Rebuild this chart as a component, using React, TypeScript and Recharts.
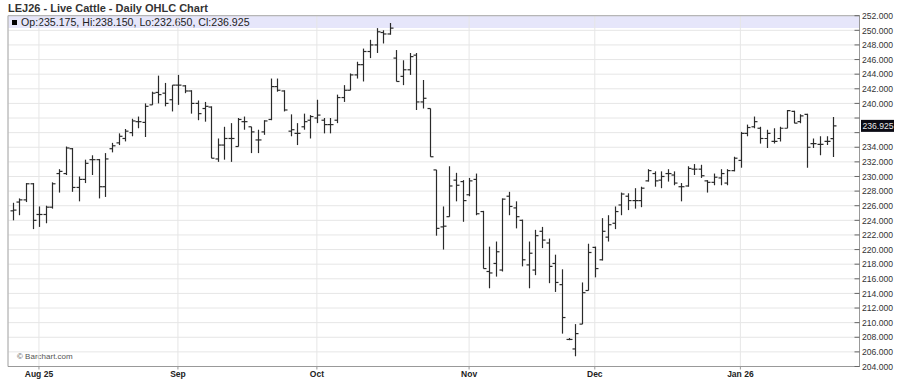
import { Bar, CartesianGrid, ComposedChart, ReferenceArea, ReferenceLine, XAxis, YAxis } from "recharts";

// LEJ26 daily bars, Jul 28 2025 .. Jan 23 2026 (one entry per trading day)
const opens = [
  225.3, 226.5, 226.8, 229.0, 224.8, 224.8, 225.8, 230.4, 230.4, 233.8,
  228.5, 229.6, 232.3, 232.3, 228.6, 233.8, 234.6, 235.2, 236.0, 237.5,
  237.4, 239.8, 241.5, 241.4, 240.5, 242.5, 242.4, 241.7, 240.0, 239.3,
  239.5, 232.4, 234.3, 235.2, 234.1, 237.5, 236.8, 235.0, 236.1, 237.8,
  242.3, 241.7, 236.2, 235.9, 236.8, 237.7, 238.0, 237.7, 237.1, 237.7,
  240.8, 241.8, 243.9, 245.3, 247.1, 248.0, 249.7, 249.5, 246.2, 243.7,
  244.6, 246.6, 240.2, 239.3, 230.9, 223.1, 224.5, 229.5, 229.3, 227.5,
  229.6, 225.2, 217.0, 218.1, 217.2, 227.3, 225.7, 224.0, 217.9, 217.2,
  222.5, 220.9, 218.1, 215.2, 207.7, 206.4, 209.8, 214.4, 220.3, 218.6,
  221.7, 223.6, 226.1, 227.3, 226.7, 226.7, 229.4, 230.4, 229.5, 230.4,
  230.2, 228.6, 228.7, 231.0, 231.0, 229.4, 229.2, 229.8, 229.1, 230.8,
  232.2, 235.9, 236.8, 236.6, 235.2, 234.8, 235.2, 236.6, 238.9, 237.5,
  238.5, 234.5, 234.4, 234.8, 235.175,
];
const highs = [
  226.4, 227.0, 229.1, 229.1, 225.9, 226.0, 229.2, 231.0, 234.1, 233.9,
  230.0, 232.3, 232.9, 232.4, 233.2, 234.6, 235.9, 236.5, 237.9, 238.2,
  240.0, 241.6, 243.8, 242.8, 242.5, 243.9, 242.5, 241.8, 240.4, 240.2,
  239.6, 235.2, 236.8, 237.3, 238.0, 238.2, 236.8, 236.4, 237.7, 243.4,
  243.4, 241.8, 238.5, 237.3, 238.6, 238.4, 240.5, 238.0, 238.0, 241.2,
  242.5, 244.1, 245.7, 247.5, 248.7, 250.3, 250.0, 251.0, 247.3, 245.9,
  246.9, 246.9, 243.2, 239.3, 230.9, 225.9, 231.4, 230.5, 229.5, 229.8,
  230.4, 225.3, 220.4, 221.1, 227.0, 227.9, 226.6, 224.1, 221.1, 222.7,
  223.1, 221.5, 219.3, 217.3, 207.9, 209.8, 215.5, 220.8, 220.4, 224.3,
  224.7, 225.9, 227.8, 227.7, 228.4, 228.6, 231.0, 230.7, 230.7, 231.0,
  230.7, 229.1, 231.4, 231.7, 231.6, 229.5, 230.4, 231.0, 231.0, 232.7,
  236.1, 237.1, 238.2, 236.8, 236.4, 236.6, 236.8, 239.1, 239.0, 238.5,
  238.6, 235.2, 235.5, 235.5, 238.15,
];
const lows = [
  224.0, 224.7, 226.5, 222.8, 223.1, 223.6, 225.6, 227.8, 230.2, 227.9,
  226.6, 229.1, 230.2, 227.0, 227.2, 233.3, 234.3, 234.8, 235.5, 236.6,
  235.4, 239.8, 240.0, 239.6, 238.9, 239.8, 241.4, 238.6, 237.7, 237.5,
  232.5, 232.0, 232.3, 232.0, 234.1, 236.4, 233.2, 233.2, 235.7, 237.7,
  241.6, 238.9, 235.5, 234.3, 236.4, 235.2, 237.3, 235.9, 235.9, 237.3,
  240.2, 241.8, 243.4, 243.0, 246.2, 246.9, 248.2, 249.4, 243.0, 242.5,
  243.9, 239.1, 239.3, 232.7, 221.9, 220.0, 224.5, 226.6, 223.8, 227.3,
  224.7, 217.4, 214.7, 216.3, 217.0, 224.7, 222.9, 217.7, 214.7, 216.5,
  220.2, 215.4, 214.2, 208.5, 207.6, 205.4, 209.8, 214.4, 216.2, 218.5,
  221.1, 222.8, 224.7, 225.4, 225.6, 225.8, 229.3, 228.6, 228.4, 229.3,
  228.8, 226.6, 228.6, 230.2, 229.8, 227.8, 228.8, 228.8, 228.8, 230.7,
  231.2, 235.5, 236.6, 234.5, 233.9, 234.5, 234.8, 236.6, 237.3, 237.3,
  231.2, 233.9, 232.9, 234.3, 232.65,
];
const closes = [
  225.4, 226.8, 229.0, 224.0, 224.8, 225.8, 229.0, 230.7, 233.9, 228.5,
  229.6, 231.8, 232.3, 228.6, 232.4, 234.2, 235.5, 236.2, 237.6, 237.5,
  239.6, 241.4, 241.2, 240.0, 242.5, 242.5, 241.7, 240.0, 238.6, 239.6,
  232.5, 234.3, 235.2, 235.2, 237.8, 237.5, 236.1, 235.0, 237.6, 242.3,
  241.8, 239.1, 236.4, 235.9, 237.5, 238.2, 238.4, 237.1, 237.1, 240.8,
  241.8, 243.9, 245.3, 247.1, 248.0, 249.8, 249.5, 250.3, 243.0, 244.6,
  246.4, 240.2, 240.7, 232.7, 222.9, 223.2, 228.7, 228.8, 226.7, 229.4,
  224.9, 217.4, 216.8, 219.7, 226.9, 225.9, 224.5, 218.6, 219.5, 221.9,
  221.3, 217.7, 215.5, 210.7, 207.7, 208.5, 214.1, 219.6, 217.4, 222.5,
  223.4, 225.2, 227.6, 226.7, 226.7, 228.4, 230.8, 229.4, 230.0, 230.4,
  229.1, 228.6, 231.1, 231.0, 230.1, 229.2, 229.9, 230.4, 230.8, 232.5,
  235.9, 236.7, 237.5, 235.2, 235.9, 234.8, 236.6, 239.0, 237.3, 238.3,
  234.0, 234.5, 234.4, 234.8, 236.925,
];

// first trading day of each month (bar index) and its label
const monthTicks = [4, 25, 46, 69, 88, 110];
const monthLabels = ["Aug 25", "Sep", "Oct", "Nov", "Dec", "Jan 26"];

const priceTicks = Array.from({ length: 25 }, (_, k) => 204 + k * 2);
const lastClose = closes[closes.length - 1];

const data = opens.map((o, i) => ({
  i,
  o,
  h: highs[i],
  l: lows[i],
  c: closes[i],
  range: [lows[i], highs[i]],
}));

const font = "Arial, 'Liberation Sans', Helvetica, sans-serif";

function OhlcBar(props: any) {
  const { x, y, width, height, payload } = props;
  if (x == null || y == null) return null;
  const top = Math.min(y, y + height);
  const h = Math.abs(height);
  const cx = Math.round(x + width / 2) + 0.5;
  const span = payload.h - payload.l;
  const k = span > 0 ? h / span : 0;
  const yo = top + (payload.h - payload.o) * k;
  const yc = top + (payload.h - payload.c) * k;
  return (
    <g stroke="#2a2a2a" strokeWidth={1.2}>
      <line x1={cx} x2={cx} y1={top} y2={top + Math.max(h, 1)} />
      <line x1={cx - 3} x2={cx} y1={yo} y2={yo} />
      <line x1={cx} x2={cx + 3} y1={yc} y2={yc} />
    </g>
  );
}

function PriceTick(props: any) {
  const { x, y, payload } = props;
  const hide = Math.abs(payload.value - lastClose) < 1.5;
  return (
    <g>
      <line x1={x - 5} x2={x} y1={y} y2={y} stroke="#666" />
      {!hide && (
        <text x={x + 2.5} y={y} dy={3.2} fontSize={8.6} fill="#333" fontFamily={font}>
          {payload.value.toFixed(3)}
        </text>
      )}
    </g>
  );
}

function LastLabel(props: any) {
  const { viewBox } = props;
  const x = viewBox.x + viewBox.width;
  const y = viewBox.y;
  return (
    <g>
      <rect x={x + 1.5} y={y - 6} width={33} height={12} fill="#0b0b14" />
      <text x={x + 3} y={y} dy={3.2} fontSize={8.6} fill="#e8e8e8" fontFamily={font}>
        {lastClose.toFixed(3)}
      </text>
    </g>
  );
}

export default function App() {
  return (
    <div style={{ position: "absolute", left: 0, top: 0, width: 901, height: 387, background: "#fff", fontFamily: font }}>
      <div style={{ position: "absolute", left: 8, top: 1, fontSize: 11, fontWeight: "bold", color: "#333", lineHeight: "14px" }}>
        LEJ26 - Live Cattle - Daily OHLC Chart
      </div>
      <div style={{ position: "absolute", left: 8, top: 16, width: 852, height: 12, background: "#e6e6fa" }}>
        <div style={{ position: "absolute", left: 4, top: 3.5, width: 5, height: 5, background: "#000" }} />
        <div style={{ position: "absolute", left: 13, top: 0, fontSize: 10.6, lineHeight: "12px", color: "#222" }}>
          Op:235.175, Hi:238.150, Lo:232.650, Cl:236.925
        </div>
      </div>
      <div style={{ position: "absolute", left: 17, top: 352, fontSize: 8, lineHeight: "10px", color: "#555" }}>
        © Barchart.com
      </div>
      <div style={{ position: "absolute", left: 0, top: 0 }}>
        <ComposedChart width={901} height={387} data={data} margin={{ top: 15.7, right: 0, bottom: 0, left: 8 }}>
          <CartesianGrid stroke="#e6e6e6" />
          <XAxis
            type="number"
            dataKey="i"
            domain={[-0.68, 128]}
            allowDataOverflow
            ticks={monthTicks}
            tickFormatter={(v: number) => monthLabels[monthTicks.indexOf(v)]}
            height={20.5}
            tickSize={3}
            tickMargin={1}
            axisLine={{ stroke: "#999" }}
            tickLine={{ stroke: "#999" }}
            tick={{ fontSize: 8.5, fontWeight: "bold", fill: "#222", fontFamily: font }}
          />
          <YAxis
            orientation="right"
            domain={[204, 252]}
            ticks={priceTicks}
            width={41.5}
            tickSize={0}
            tickMargin={0}
            tickLine={false}
            axisLine={{ stroke: "#999" }}
            tick={<PriceTick />}
            interval={0}
          />
          <ReferenceArea x1={-0.68} x2={128} y1={204} y2={252} fill="none" stroke="#aaa" strokeWidth={1} />
          <Bar dataKey="range" shape={<OhlcBar />} barSize={5} isAnimationActive={false} />
          <ReferenceLine y={lastClose} stroke="none" label={<LastLabel />} />
        </ComposedChart>
      </div>
    </div>
  );
}
